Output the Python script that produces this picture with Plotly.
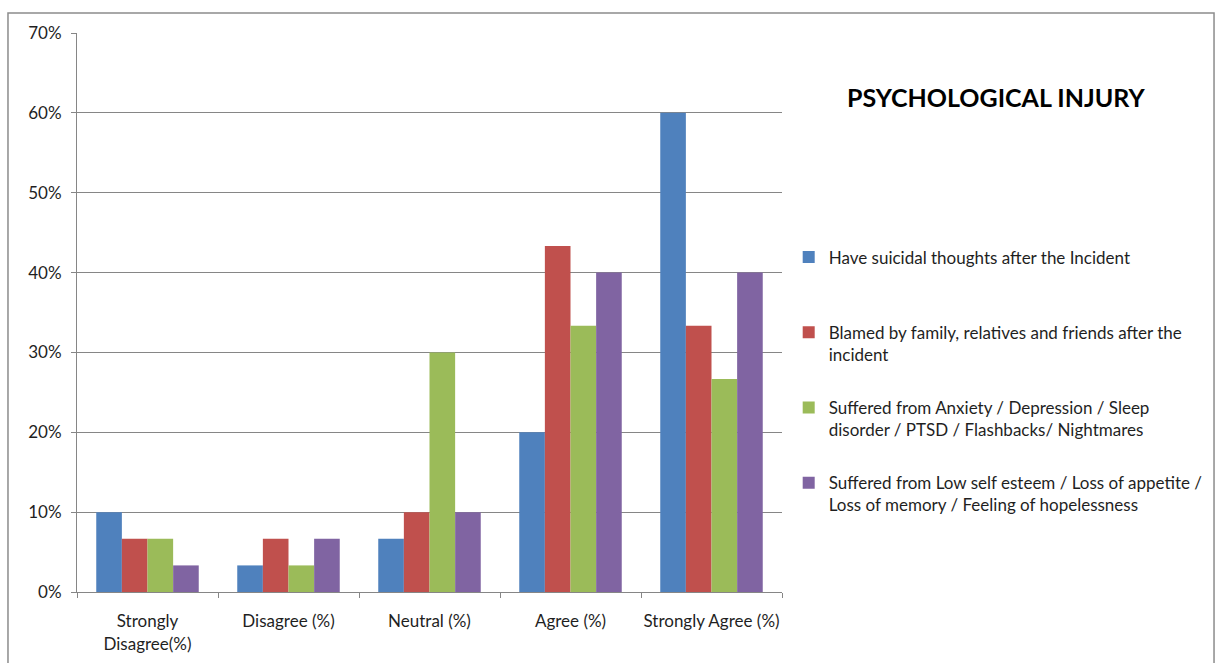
import plotly.graph_objects as go

categories = ["Strongly<br>Disagree(%)", "Disagree (%)", "Neutral (%)", "Agree (%)", "Strongly Agree (%)"]

series_names = [
    "Have suicidal thoughts after the Incident<br> ",
    "Blamed by family, relatives and friends after the<br>incident",
    "Suffered from Anxiety / Depression / Sleep<br>disorder / PTSD / Flashbacks/ Nightmares",
    "Suffered from Low self esteem / Loss of appetite /<br>Loss of memory / Feeling of hopelessness",
]

suicidal = [0.10, 0.0333, 0.0667, 0.20, 0.60]
blamed = [0.0667, 0.0667, 0.10, 0.4333, 0.3333]
anxiety = [0.0667, 0.0333, 0.30, 0.3333, 0.2667]
low_esteem = [0.0333, 0.0667, 0.10, 0.40, 0.40]

colors = ["#4F81BD", "#C0504D", "#9BBB59", "#8064A2"]
FONT = "Lato"
TEXT = "#1F1F1F"

fig = go.Figure()
for i, (name, vals) in enumerate(zip(series_names, [suicidal, blamed, anxiety, low_esteem])):
    fig.add_trace(go.Bar(
        x=categories, y=vals, name=name,
        marker=dict(color=colors[i], line=dict(width=0)),
        legendgroup=f"g{i}",
    ))

# outer chart border
fig.add_shape(type="rect", xref="paper", yref="paper",
              x0=-0.0979, x1=1.6128, y0=-0.2, y1=1.0358,
              line=dict(color="#8C8C8C", width=1.5), fillcolor="rgba(0,0,0,0)", layer="below")

fig.add_annotation(text="<b>PSYCHOLOGICAL INJURY</b>", xref="paper", yref="paper",
                   x=1.3035, y=0.886, showarrow=False, xanchor="center", yanchor="middle",
                   font=dict(family=FONT, size=25, color="#000000"))

fig.update_layout(
    width=1219, height=663,
    margin=dict(l=77, r=437, t=33, b=71, autoexpand=False),
    paper_bgcolor="white", plot_bgcolor="white",
    barmode="group", bargap=0.273, bargroupgap=0,
    font=dict(family=FONT, size=17, color=TEXT),
    showlegend=True,
    legend=dict(
        x=1.0095, y=0.6306, xanchor="left", yanchor="top",
        valign="top", tracegroupgap=28,
        bgcolor="rgba(0,0,0,0)",
        font=dict(family=FONT, size=17, color=TEXT),
        itemwidth=30,
    ),
    xaxis=dict(
        showgrid=False, showline=True, linecolor="#868686", linewidth=1,
        ticks="outside", ticklen=5, tickcolor="#868686", tickson="boundaries",
        tickfont=dict(family=FONT, size=17, color=TEXT),
        tickangle=0, automargin=False,
        ticklabelstandoff=14,
    ),
    yaxis=dict(
        range=[0, 0.70], dtick=0.10, tickformat=".0%",
        showgrid=True, gridcolor="#868686", gridwidth=1,
        showline=True, linecolor="#868686", linewidth=1,
        ticks="outside", ticklen=5, tickcolor="#868686",
        tickfont=dict(family=FONT, size=17, color=TEXT),
        automargin=False,
        ticklabelstandoff=6, zeroline=False,
    ),
)

fig.write_html("out.html")
